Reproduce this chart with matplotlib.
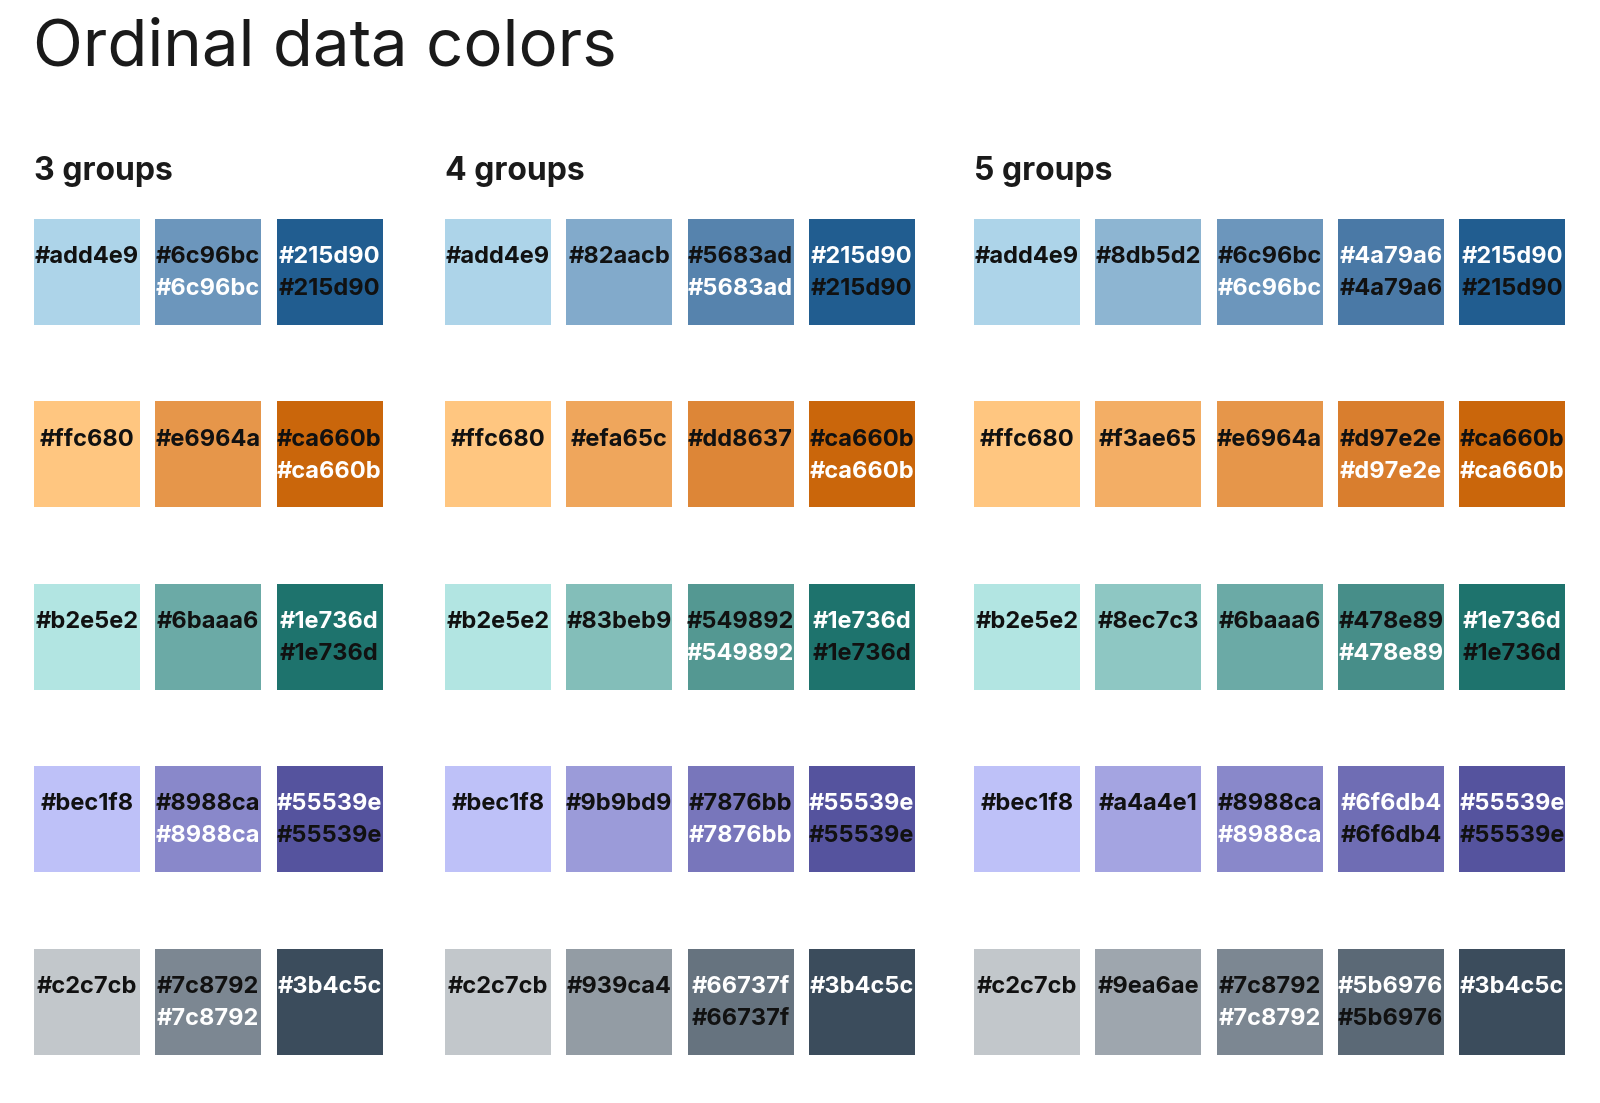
import matplotlib
matplotlib.use("Agg")
import matplotlib.pyplot as plt
from matplotlib.patches import Rectangle

plt.rcParams['font.family'] = ['Inter', 'DejaVu Sans']

title = "Ordinal data colors"
group_titles = ["3 groups", "4 groups", "5 groups"]

# colours per group (rows: blue, orange, teal, purple, gray)
colors_3 = [
    ["#add4e9", "#6c96bc", "#215d90"],
    ["#ffc680", "#e6964a", "#ca660b"],
    ["#b2e5e2", "#6baaa6", "#1e736d"],
    ["#bec1f8", "#8988ca", "#55539e"],
    ["#c2c7cb", "#7c8792", "#3b4c5c"],
]
colors_4 = [
    ["#add4e9", "#82aacb", "#5683ad", "#215d90"],
    ["#ffc680", "#efa65c", "#dd8637", "#ca660b"],
    ["#b2e5e2", "#83beb9", "#549892", "#1e736d"],
    ["#bec1f8", "#9b9bd9", "#7876bb", "#55539e"],
    ["#c2c7cb", "#939ca4", "#66737f", "#3b4c5c"],
]
colors_5 = [
    ["#add4e9", "#8db5d2", "#6c96bc", "#4a79a6", "#215d90"],
    ["#ffc680", "#f3ae65", "#e6964a", "#d97e2e", "#ca660b"],
    ["#b2e5e2", "#8ec7c3", "#6baaa6", "#478e89", "#1e736d"],
    ["#bec1f8", "#a4a4e1", "#8988ca", "#6f6db4", "#55539e"],
    ["#c2c7cb", "#9ea6ae", "#7c8792", "#5b6976", "#3b4c5c"],
]
# label text colours shown on each swatch, top to bottom (k = black, w = white)
labels_3 = [
    ["k", "kw", "wk"],
    ["k", "k", "kw"],
    ["k", "k", "wk"],
    ["k", "kw", "wk"],
    ["k", "kw", "w"],
]
labels_4 = [
    ["k", "k", "kw", "wk"],
    ["k", "k", "k", "kw"],
    ["k", "k", "kw", "wk"],
    ["k", "k", "kw", "wk"],
    ["k", "k", "wk", "w"],
]
labels_5 = [
    ["k", "k", "kw", "wk", "wk"],
    ["k", "k", "k", "kw", "kw"],
    ["k", "k", "k", "kw", "wk"],
    ["k", "k", "kw", "wk", "wk"],
    ["k", "k", "kw", "wk", "w"],
]

groups = [(colors_3, labels_3), (colors_4, labels_4), (colors_5, labels_5)]

# layout (pixels)
W, H = 1600, 1103
group_x0 = [34, 445, 974]
pitch_x = 121.3
size = 106
row_top0 = 218.5
pitch_y = 182.5
text_map = {"k": "#111111", "w": "#ffffff"}

fig = plt.figure(figsize=(W / 100, H / 100), dpi=100)
ax = fig.add_axes([0, 0, 1, 1])
ax.set_xlim(0, W)
ax.set_ylim(H, 0)
ax.axis("off")

ax.text(33, 66, title, fontsize=47, color="#1a1a1a", ha="left",
        va="baseline", fontweight="normal")

for gi, (gt, (cols, labs)) in enumerate(zip(group_titles, groups)):
    x0 = group_x0[gi]
    ax.text(x0, 180, gt, fontsize=23, color="#1a1a1a", ha="left",
            va="baseline", fontweight="bold")
    for ri, (row_c, row_l) in enumerate(zip(cols, labs)):
        y = row_top0 + ri * pitch_y
        for ci, (c, l) in enumerate(zip(row_c, row_l)):
            x = x0 + ci * pitch_x
            ax.add_patch(Rectangle((x, y), size, size, facecolor=c,
                                   edgecolor="none"))
            for li, tc in enumerate(l):
                ax.text(x + size / 2, y + 36 + li * 32, c, fontsize=17,
                        color=text_map[tc], ha="center", va="center_baseline",
                        fontweight="bold")

fig.savefig("out.png", dpi=100, facecolor="white")
